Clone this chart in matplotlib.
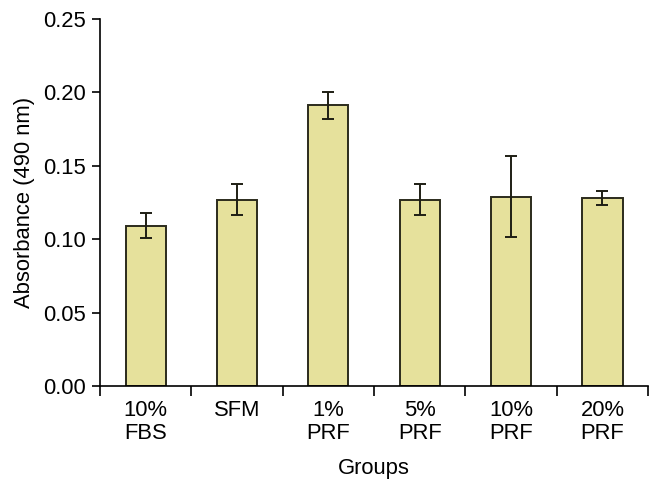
import matplotlib.pyplot as plt
import numpy as np

plt.rcParams['font.family'] = ['Liberation Sans', 'DejaVu Sans']

groups = ['10%\nFBS', 'SFM', '1%\nPRF', '5%\nPRF', '10%\nPRF', '20%\nPRF']
absorbance = [0.109, 0.127, 0.191, 0.127, 0.129, 0.128]
err_low = [0.0085, 0.0105, 0.0095, 0.0105, 0.0275, 0.0045]
err_high = [0.0085, 0.0105, 0.0095, 0.0105, 0.0275, 0.0045]

fig = plt.figure(figsize=(6.62, 4.95), dpi=100)
ax = fig.add_axes([0.151, 0.220, 0.828, 0.742])

x = np.arange(len(groups))
ax.bar(x, absorbance, width=0.44, color='#e6e19c', edgecolor='#2b2b1c', linewidth=1.4,
       yerr=[err_low, err_high], capsize=4.3,
       error_kw=dict(ecolor='#1e1e14', elinewidth=1.4, capthick=1.4))

ax.set_ylim(0, 0.25)
ax.set_yticks(np.arange(0, 0.26, 0.05))
ax.set_yticklabels([f'{v:.2f}' for v in np.arange(0, 0.26, 0.05)])
ax.set_xlim(-0.5, 5.5)
ax.set_xticks(np.arange(-0.5, 6, 1.0))
ax.set_xticklabels([])
ax.set_xticks(x, minor=True)
ax.set_xticklabels(groups, minor=True, linespacing=1.15)
ax.tick_params(axis='both', which='both', labelsize=15.8)
ax.tick_params(axis='x', which='minor', length=0, pad=10)
ax.tick_params(axis='x', which='major', length=7, width=1.2, direction='out')
ax.tick_params(axis='y', length=6, width=1.2, direction='out', pad=4)

for s in ['top', 'right']:
    ax.spines[s].set_visible(False)
for s in ['left', 'bottom']:
    ax.spines[s].set_linewidth(1.2)

ax.set_ylabel('Absorbance (490 nm)', fontsize=15.8, labelpad=6)
ax.set_xlabel('Groups', fontsize=15.8, labelpad=10)

plt.savefig('out.png', dpi=100)
